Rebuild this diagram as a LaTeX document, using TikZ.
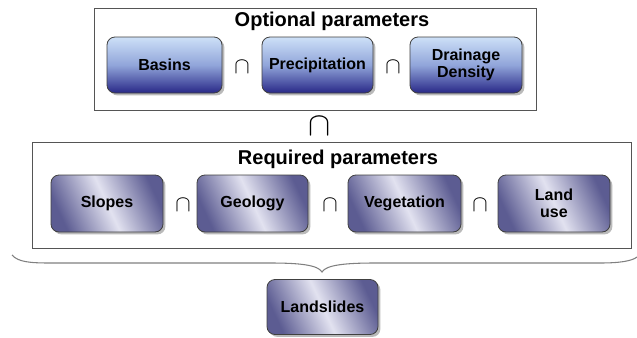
\documentclass[tikz,border=0pt]{standalone}
\usepackage{fontspec}
\setmainfont{Liberation Sans}
\usetikzlibrary{shadows}
\definecolor{optTop}{RGB}{205,224,247}
\definecolor{optMid}{RGB}{145,165,218}
\definecolor{optBot}{RGB}{40,40,135}
\definecolor{reqDark}{RGB}{92,92,146}
\definecolor{reqLight}{RGB}{226,226,240}
\definecolor{frameGray}{RGB}{85,85,85}
\tikzset{
 panel/.style={draw=frameGray, line width=0.75pt, fill=white, inner sep=0pt},
 pbox/.style={draw=black!75, line width=0.6pt, rounded corners=6pt, inner sep=0pt, align=center,
   font=\bfseries\fontsize{12}{12.5}\selectfont,
   drop shadow={shadow xshift=1.8pt, shadow yshift=-1.8pt, fill=black!45, opacity=0.6}},
 optbox/.style={pbox, top color=optTop, bottom color=optBot, middle color=optMid},
 reqbox/.style={pbox, top color=reqDark, bottom color=reqDark, middle color=reqLight, shading angle=-65},
 paneltitle/.style={font=\bfseries\fontsize{15}{18}\selectfont, inner sep=0pt},
 capsym/.style={font=\fontsize{17}{17}\selectfont, inner sep=0pt},
 bigcap/.style={font=\fontsize{31}{31}\selectfont, inner sep=0pt},
 bracepath/.style={draw=gray, line width=0.8pt}
}
\begin{document}
\begin{tikzpicture}[x=0.75pt, y=-0.75pt]
\useasboundingbox (0,0) rectangle (637,337);
% panels
\node[panel, minimum width=331.5pt, minimum height=76.5pt] (opt) at (315,59) {};
\node[panel, minimum width=449.25pt, minimum height=79.5pt] (req) at (331.5,195) {};
\node[paneltitle] (optt) at (332,21) {Optional parameters};
\node[paneltitle] (reqt) at (338,159) {Required parameters};
% optional row
\node[optbox, minimum width=86.25pt, minimum height=42pt] (basins) at (164.5,65) {Basins};
\node[optbox, minimum width=83.25pt, minimum height=42pt] (prec) at (317.5,65) {Precipitation};
\node[optbox, minimum width=84pt, minimum height=42pt] (drain) at (466,65) {Drainage\\Density};
\node[capsym] (c1) at (242,67) {$\cap$};
\node[capsym] (c2) at (393,67) {$\cap$};
% big cap
\node[bigcap] (cbig) at (320,126) {$\cap$};
% required row
\node[reqbox, minimum width=84pt, minimum height=42.75pt] (slopes) at (107,203.5) {Slopes};
\node[reqbox, minimum width=83.25pt, minimum height=42.75pt] (geol) at (252.5,203.5) {Geology};
\node[reqbox, minimum width=84.75pt, minimum height=42.75pt] (veg) at (404.5,203.5) {Vegetation};
\node[reqbox, minimum width=84pt, minimum height=42.75pt] (land) at (554,203.5) {Land\\use};
\node[capsym] (c3) at (183,205) {$\cap$};
\node[capsym] (c4) at (330,205) {$\cap$};
\node[capsym] (c5) at (480,205) {$\cap$};
% landslides
\node[reqbox, minimum width=83.25pt, minimum height=41.25pt] (slides) at (322.5,307) {Landslides};
% brace
\coordinate (bl) at (12,255);
\coordinate (br) at (637,257);
\coordinate (btip) at (322,272);
\draw[bracepath] (bl) .. controls (18,262) and (30,263) .. (50,263)
  -- (270,263) .. controls (300,263) and (318,265) .. (btip)
  .. controls (326,265) and (345,263) .. (375,263)
  -- (600,263) .. controls (620,263) and (632,261) .. (br);
\end{tikzpicture}
\end{document}
